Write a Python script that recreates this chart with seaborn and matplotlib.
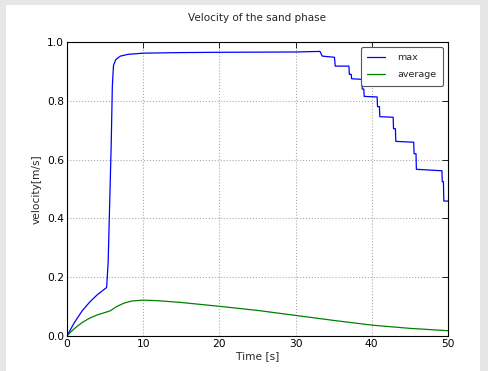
import numpy as np
import pandas as pd
import matplotlib
matplotlib.use("Agg")
import matplotlib.pyplot as plt
import seaborn as sns
from matplotlib.patches import Rectangle

# ---- data ----
max_t = [0, 0.5, 1, 2, 3, 4, 4.6, 5.2, 5.4, 5.6, 5.8, 5.95, 6.1, 6.4, 7, 8, 10, 15, 20, 30, 33.2,
         33.5, 35.1, 35.2, 37.0, 37.05, 37.3, 37.35, 38.7, 38.75, 38.95, 39.0, 40.7, 40.75, 41.0, 41.05,
         42.8, 42.85, 43.1, 43.15, 45.5, 45.55, 45.8, 45.85, 49.2, 49.25, 49.4, 49.45, 50]
max_v = [0, 0.024, 0.047, 0.086, 0.116, 0.141, 0.153, 0.165, 0.25, 0.45, 0.65, 0.85, 0.92, 0.94, 0.952, 0.958, 0.962, 0.964, 0.965, 0.966, 0.968,
         0.952, 0.948, 0.918, 0.918, 0.89, 0.89, 0.875, 0.873, 0.84, 0.84, 0.815, 0.813, 0.78, 0.78, 0.746,
         0.744, 0.705, 0.705, 0.662, 0.659, 0.62, 0.62, 0.567, 0.562, 0.525, 0.525, 0.459, 0.459]

avg_t = [0, 0.5, 1, 2, 3, 4, 5, 5.7, 6.5, 7.5, 8.5, 10, 12, 15, 20, 25, 30, 35, 40, 45, 50]
avg_v = [0, 0.014, 0.026, 0.046, 0.061, 0.072, 0.08, 0.086, 0.1, 0.112, 0.119, 0.122, 0.12, 0.114, 0.101, 0.087, 0.07, 0.053, 0.037, 0.026, 0.018]

xticks = [0, 10, 20, 30, 40, 50]
yticks = [0.0, 0.2, 0.4, 0.6, 0.8, 1.0]

sns.set_style("white")
plt.rcParams['font.family'] = ['DejaVu Sans']

fig = plt.figure(figsize=(4.88, 3.71), dpi=100)
fig.patch.set_facecolor("#e6e6e6")
fig.patches.append(Rectangle((6/488, 0), (480-6)/488, 366/371, transform=fig.transFigure,
                             facecolor="white", edgecolor="none", zorder=-10))
ax = fig.add_axes([67/488, 1-336/371, (448-67)/488, (336-42)/371])

df_max = pd.DataFrame({"t": max_t, "v": max_v})
df_avg = pd.DataFrame({"t": avg_t, "v": avg_v})
sns.lineplot(data=df_max, x="t", y="v", ax=ax, color="blue", lw=0.9, estimator=None, sort=False, label="max")
sns.lineplot(data=df_avg, x="t", y="v", ax=ax, color="green", lw=0.9, estimator=None, sort=False, label="average")

ax.set_xlim(0, 50)
ax.set_ylim(0, 1.0)
ax.set_xticks(xticks)
ax.set_yticks(yticks)
ax.set_yticklabels([f"{y:.1f}" for y in yticks])
ax.tick_params(direction="in", length=4, width=0.6, labelsize=7.7, top=True, right=True, colors="black", pad=2)
ax.grid(True, linestyle=":", color="#aaaaaa", lw=0.8)
for s in ax.spines.values():
    s.set_color("black")
    s.set_linewidth(0.8)

ax.set_xlabel("Time [s]", fontsize=7.7, labelpad=2)
ax.set_ylabel("velocity[m/s]", fontsize=7.7, labelpad=4)
ax.set_title("Velocity of the sand phase", fontsize=7.5, pad=15)

leg = ax.legend(loc="upper right", fontsize=6.8, handlelength=1.9, handletextpad=1.3,
                fancybox=True, framealpha=1, edgecolor="#555555", borderaxespad=0.5,
                labelspacing=0.8, borderpad=0.7)
leg.get_frame().set_linewidth(0.8)

fig.savefig("out.png", dpi=100, facecolor=fig.get_facecolor())
